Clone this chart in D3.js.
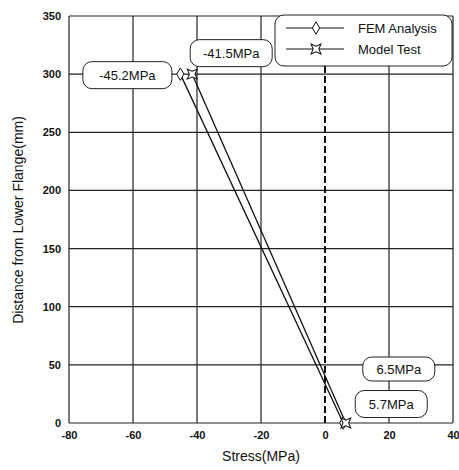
<!DOCTYPE html>
<html>
<head>
<meta charset="utf-8">
<script src="https://cdn.jsdelivr.net/npm/d3@7"></script>
<style>
  body { margin: 0; background: #fff; }
  text { font-family: "Liberation Sans", Arial, sans-serif; fill: #111; }
</style>
</head>
<body>
<svg id="chart" width="459" height="470"></svg>
<script>
// Stress distribution along the web height
const seriesNames = ["FEM Analysis", "Model Test"];
const femStress = [-45.2, 5.7];
const testStress = [-41.5, 6.5];
const heights = [300, 0];
const xTicks = [-80, -60, -40, -20, 0, 20, 40];
const yTicks = [0, 50, 100, 150, 200, 250, 300, 350];
const valueLabels = ["-45.2MPa", "-41.5MPa", "6.5MPa", "5.7MPa"];

const svg = d3.select("#chart");
const x = d3.scaleLinear().domain([-80, 40]).range([69, 453]);
const y = d3.scaleLinear().domain([0, 350]).range([423, 16]);

// grid
const g = svg.append("g");
g.selectAll("line.vx").data(xTicks).join("line")
  .attr("x1", d => x(d)).attr("x2", d => x(d))
  .attr("y1", y(0)).attr("y2", y(350))
  .attr("stroke", d => d === 0 ? "none" : "#222").attr("stroke-width", 1.2);
g.selectAll("line.hy").data(yTicks).join("line")
  .attr("x1", x(-80)).attr("x2", x(40))
  .attr("y1", d => y(d)).attr("y2", d => y(d))
  .attr("stroke", "#222").attr("stroke-width", 1.2);
// zero-stress reference
g.append("line")
  .attr("x1", x(0)).attr("x2", x(0)).attr("y1", y(0)).attr("y2", y(350))
  .attr("stroke", "#111").attr("stroke-width", 2).attr("stroke-dasharray", "7,3");

// axes (plain hyphen minus in tick labels)
const fmt = d => String(d);
const xAxis = svg.append("g").attr("transform", `translate(0,${y(0)})`)
  .call(d3.axisBottom(x).tickValues(xTicks).tickFormat(fmt).tickSize(0).tickPadding(8));
const yAxis = svg.append("g").attr("transform", `translate(${x(-80)},0)`)
  .call(d3.axisLeft(y).tickValues(yTicks).tickFormat(fmt).tickSize(0).tickPadding(8));
[xAxis, yAxis].forEach(a => {
  a.select(".domain").remove();
  a.selectAll("text").style("font-family", "'Liberation Sans', Arial, sans-serif")
    .style("font-size", "11px").style("font-weight", "bold").attr("fill", "#111");
});

svg.append("text").attr("x", 261).attr("y", 461).attr("text-anchor", "middle")
  .style("font-size", "14px").text("Stress(MPa)");
svg.append("text").attr("transform", "translate(23,220) rotate(-90)")
  .attr("text-anchor", "middle").style("font-size", "14px")
  .text("Distance from Lower Flange(mm)");

// series lines
const line = d3.line().x(d => x(d[0])).y(d => y(d[1]));
const femPts = femStress.map((s, i) => [s, heights[i]]);
const testPts = testStress.map((s, i) => [s, heights[i]]);
svg.append("path").attr("d", line(femPts)).attr("fill", "none").attr("stroke", "#111").attr("stroke-width", 1.3);
svg.append("path").attr("d", line(testPts)).attr("fill", "none").attr("stroke", "#111").attr("stroke-width", 1.3);

// markers
const diamond = d3.symbol().type(d3.symbolDiamond).size(45);
const star = "M0,-7 L2,-2 L7,0 L2,2 L0,7 L-2,2 L-7,0 L-2,-2 Z";
function drawDiamond(cx, cy) {
  svg.append("path").attr("d", diamond()).attr("transform", `translate(${cx},${cy})`)
    .attr("fill", "#fff").attr("stroke", "#111").attr("stroke-width", 1);
}
function drawStar(cx, cy) {
  svg.append("path").attr("d", star).attr("transform", `translate(${cx},${cy}) rotate(45)`)
    .attr("fill", "#fff").attr("stroke", "#111").attr("stroke-width", 1);
}
femPts.forEach(p => drawDiamond(x(p[0]), y(p[1])));
testPts.forEach(p => drawStar(x(p[0]), y(p[1])));

// value callouts
function callout(cx, cy, w, h, txt) {
  svg.append("rect").attr("x", cx - w / 2).attr("y", cy - h / 2).attr("width", w).attr("height", h)
    .attr("rx", 9).attr("fill", "#fff").attr("stroke", "#222").attr("stroke-width", 1);
  svg.append("text").attr("x", cx).attr("y", cy + 5).attr("text-anchor", "middle")
    .style("font-size", "13px").text(txt);
}
callout(x(femStress[0]) - 53, y(heights[0]) + 1, 89, 27, valueLabels[0]);
callout(x(testStress[0]) + 39, y(heights[0]) - 21, 82, 27, valueLabels[1]);
callout(x(testStress[1]) + 53, y(heights[1]) - 54, 72, 24, valueLabels[2]);
callout(x(femStress[1]) + 48, y(heights[1]) - 19, 72, 27, valueLabels[3]);

// legend
const lg = svg.append("g");
lg.append("rect").attr("x", 275).attr("y", 15).attr("width", 177).attr("height", 51)
  .attr("rx", 9).attr("fill", "#fff").attr("stroke", "#222").attr("stroke-width", 1);
[28, 49].forEach((ly, i) => {
  lg.append("line").attr("x1", 286).attr("x2", 344).attr("y1", ly).attr("y2", ly)
    .attr("stroke", "#111").attr("stroke-width", 1.2);
  if (i === 0) drawDiamond(316, ly); else drawStar(316, ly);
  lg.append("text").attr("x", 358).attr("y", ly + 5).style("font-size", "13px").text(seriesNames[i]);
});
</script>
</body>
</html>
